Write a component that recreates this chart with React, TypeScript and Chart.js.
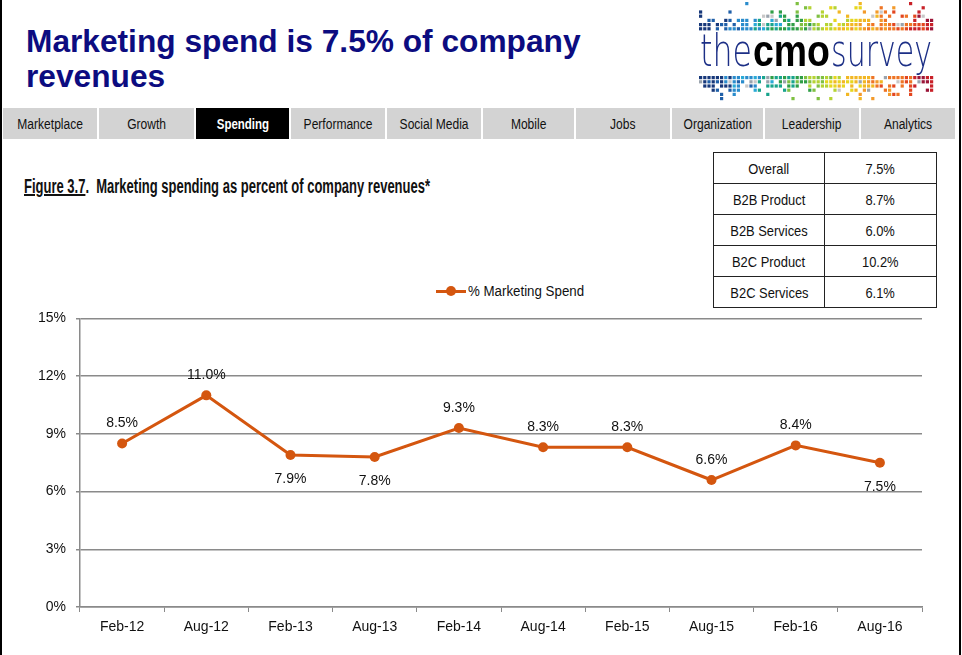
import React, { useEffect, useRef } from "react";
import { Chart, registerables } from "chart.js";

Chart.register(...registerables);

const categories = ["Feb-12", "Aug-12", "Feb-13", "Aug-13", "Feb-14", "Aug-14", "Feb-15", "Aug-15", "Feb-16", "Aug-16"];
const spendValues = [8.5, 11.0, 7.9, 7.8, 9.3, 8.3, 8.3, 6.6, 8.4, 7.5];
const labelBelow = [false, false, true, true, false, false, false, false, false, true];
const seriesName = "% Marketing Spend";

const navTabs = ["Marketplace", "Growth", "Spending", "Performance", "Social Media", "Mobile", "Jobs", "Organization", "Leadership", "Analytics"];
const activeTab = "Spending";

const tableLabels = ["Overall", "B2B Product", "B2B Services", "B2C Product", "B2C Services"];
const tableValues = ["7.5%", "8.7%", "6.0%", "10.2%", "6.1%"];

const SANS = '"Liberation Sans", Arial, Helvetica, sans-serif';
const LINE_COLOR = "#d4560f";
const navEdges = [3, 99, 196, 291, 387, 483, 576, 672, 765, 861, 957];

function Squeeze({ children, sx, style }: { children: any; sx: number; style?: any }) {
  return (
    <span style={{ display: "inline-block", transform: `scaleX(${sx})`, whiteSpace: "nowrap", ...(style || {}) }}>{children}</span>
  );
}

function Logo() {
  const ref = useRef<HTMLCanvasElement | null>(null);
  useEffect(() => {
    const cv = ref.current;
    if (!cv) return;
    const ctx = cv.getContext("2d");
    if (!ctx) return;
    ctx.clearRect(0, 0, cv.width, cv.height);
    const palette = ["#17387a", "#1f5fa8", "#2a8ccc", "#2aaad6", "#18a48c", "#2f9e46", "#7fc041", "#b5d334", "#e6d61e", "#f2b723", "#f39a2a", "#ee7424", "#e3461f", "#c92128", "#9b1538"];
    const greys = ["#9aa3ad", "#c8c8c8"];
    const cols = 56;
    const hash = (c: number, r: number, s: number) => (((c * 2654435761) ^ (r * 40503 + s * 97)) >>> 0) % 1000 / 1000;
    const drawBlock = (y0: number, probs: number[], seed: number) => {
      probs.forEach((p, r) => {
        for (let c = 0; c < cols; c++) {
          if (hash(c + 3, r + 1, seed) < p) {
            const t = c / (cols - 1);
            let idx = Math.floor(t * (palette.length - 1) + (hash(c, r, seed + 5) - 0.5) * 2.2);
            idx = Math.max(0, Math.min(palette.length - 1, idx));
            let col = palette[idx];
            if (hash(c, r, seed + 9) < 0.08) col = greys[c % 2];
            ctx.fillStyle = col;
            ctx.fillRect(c * 4.2, y0 + r * 4.2, 3.2, 3.2);
          }
        }
      });
    };
    drawBlock(2, [0.04, 0.1, 0.22, 0.35, 0.6, 0.85, 0.95], 1);
    drawBlock(76, [0.95, 0.88, 0.62, 0.38, 0.2, 0.1], 7);
    const drawFit = (txt: string, font: string, color: string, x: number, w: number) => {
      ctx.font = font;
      const m = ctx.measureText(txt).width;
      ctx.save();
      ctx.translate(x, 66);
      ctx.scale(w / m, 1.05);
      ctx.fillStyle = color;
      ctx.fillText(txt, 0, 0);
      ctx.restore();
    };
    drawFit("the", '200 42px "DejaVu Sans", sans-serif', "#1c2f86", 1, 52);
    drawFit("cmo", '900 42px "Liberation Sans", Arial, sans-serif', "#000000", 54, 77);
    drawFit("survey", '200 42px "DejaVu Sans", sans-serif', "#1c2f86", 132, 101);
  }, []);
  return <canvas ref={ref} width={240} height={106} style={{ position: "absolute", left: 699, top: 0, width: 240, height: 106 }} />;
}

function LineChart() {
  const ref = useRef<HTMLCanvasElement | null>(null);
  useEffect(() => {
    const cv = ref.current;
    if (!cv) return;
    const labelPlugin = {
      id: "pointLabels",
      afterDatasetsDraw(chart: any) {
        const ctx = chart.ctx;
        const meta = chart.getDatasetMeta(0);
        ctx.save();
        ctx.font = `14px ${SANS}`;
        ctx.fillStyle = "#111";
        ctx.textAlign = "center";
        ctx.textBaseline = "middle";
        meta.data.forEach((pt: any, i: number) => {
          const v = spendValues[i];
          const dy = labelBelow[i] ? 24 : -20;
          ctx.fillText(v.toFixed(1) + "%", pt.x, pt.y + dy);
        });
        ctx.restore();
      },
    };
    const chart = new Chart(cv, {
      type: "line",
      data: {
        labels: categories,
        datasets: [
          {
            label: seriesName,
            data: spendValues,
            borderColor: LINE_COLOR,
            backgroundColor: LINE_COLOR,
            borderWidth: 3,
            pointRadius: 5,
            pointHoverRadius: 5,
            pointBorderWidth: 0,
            pointBackgroundColor: LINE_COLOR,
            tension: 0,
          },
        ],
      },
      options: {
        responsive: false,
        animation: false,
        events: [],
        layout: { padding: { left: 0, top: 8, right: 18, bottom: 0 } },
        plugins: { legend: { display: false }, tooltip: { enabled: false } },
        scales: {
          x: {
            offset: true,
            grid: { display: true, drawOnChartArea: false, tickLength: 5, color: "#8a8a8a", offset: true },
            border: { display: true, color: "#8a8a8a", width: 1.5 },
            ticks: { color: "#111", font: { family: SANS, size: 14 }, padding: 7, maxRotation: 0 },
            afterFit: (s: any) => { s.height = 43; },
          },
          y: {
            min: 0,
            max: 15,
            ticks: { stepSize: 3, color: "#111", font: { family: SANS, size: 14 }, padding: 10, callback: (v: any) => v + "%" },
            grid: { color: "#8a8a8a", lineWidth: 1.5, tickLength: 4 },
            border: { display: true, color: "#8a8a8a", width: 1.5 },
            afterFit: (s: any) => { s.width = 80; },
          },
        },
      },
      plugins: [labelPlugin],
    });
    return () => chart.destroy();
  }, []);
  return <canvas ref={ref} width={940} height={350} style={{ position: "absolute", left: 0, top: 300, width: 940, height: 350 }} />;
}

export default function App() {
  useEffect(() => {
    document.body.style.margin = "0";
  }, []);
  return (
    <div style={{ position: "relative", width: 962, height: 655, overflow: "hidden", background: "#fff", fontFamily: SANS }}>
      <div style={{ position: "absolute", left: 0, top: 0, width: 2, height: 655, background: "#000" }} />
      <div style={{ position: "absolute", left: 959, top: 0, width: 2, height: 655, background: "#000" }} />
      <div style={{ position: "absolute", left: 26, top: 24, fontFamily: SANS, fontWeight: 700, fontSize: 32, lineHeight: "35px", color: "#0c0c80", width: 640, transformOrigin: "left top", transform: "scaleX(0.99)" }}>
        Marketing spend is 7.5% of company<br />revenues
      </div>
      <Logo />
      {navTabs.map((t, i) => {
        const active = t === activeTab;
        return (
          <div key={t} style={{ position: "absolute", left: navEdges[i], top: 108, width: navEdges[i + 1] - navEdges[i] - 2, height: 31, background: active ? "#000" : "#d3d3d3", color: active ? "#fff" : "#111", fontFamily: SANS, fontWeight: active ? 700 : 400, fontSize: 14, lineHeight: "33px", textAlign: "center" }}>
            <Squeeze sx={active ? 0.82 : 0.86}>{t}</Squeeze>
          </div>
        );
      })}
      <div style={{ position: "absolute", left: 24, top: 175, fontFamily: SANS, fontWeight: 700, fontSize: 20, color: "#111", whiteSpace: "nowrap", transformOrigin: "left top", transform: "scaleX(0.65)" }}>
        <span style={{ textDecoration: "underline" }}>Figure 3.7</span>.&nbsp; Marketing spending as percent of company revenues*
      </div>
      <table style={{ position: "absolute", left: 713, top: 152, width: 224, borderCollapse: "collapse", fontFamily: SANS, fontSize: 15, color: "#111" }}>
        <tbody>
          {tableLabels.map((l, i) => (
            <tr key={l} style={{ height: 31 }}>
              <td style={{ border: "1px solid #222", width: 110, textAlign: "center", padding: 0 }}><Squeeze sx={0.86}>{l}</Squeeze></td>
              <td style={{ border: "1px solid #222", textAlign: "center", padding: 0 }}><Squeeze sx={0.86}>{tableValues[i]}</Squeeze></td>
            </tr>
          ))}
        </tbody>
      </table>
      <div style={{ position: "absolute", left: 436, top: 282, height: 18, display: "flex", alignItems: "center", fontFamily: SANS, fontSize: 14, color: "#111" }}>
        <div style={{ position: "relative", width: 30, height: 18, marginRight: 2 }}>
          <div style={{ position: "absolute", left: 0, top: 8, width: 30, height: 3, background: LINE_COLOR }} />
          <div style={{ position: "absolute", left: 10, top: 4, width: 10, height: 10, borderRadius: 5, background: LINE_COLOR }} />
        </div>
        <Squeeze sx={0.95} style={{ transformOrigin: "left center" }}>{seriesName}</Squeeze>
      </div>
      <LineChart />
    </div>
  );
}
